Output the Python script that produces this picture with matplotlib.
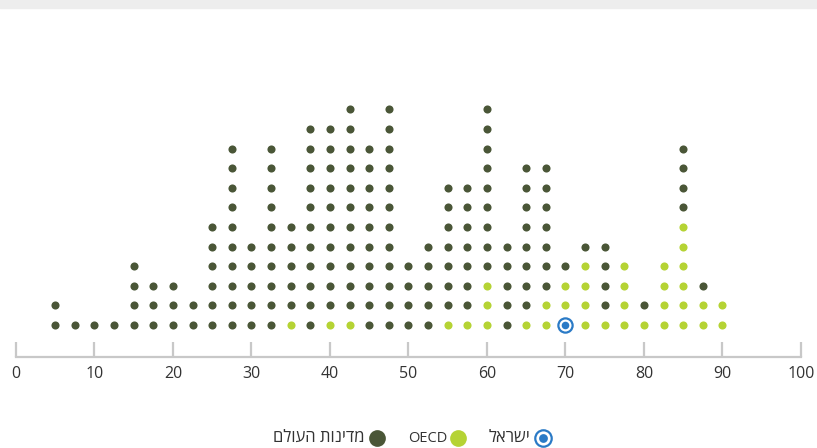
import matplotlib
matplotlib.use('Agg')
import matplotlib.pyplot as plt

# ─── Data: dot counts per bin (bins every 2.5 points) ────────────────────────
BINS = [5, 7.5, 10, 12.5, 15, 17.5, 20, 22.5, 25, 27.5, 30, 32.5, 35, 37.5,
        40, 42.5, 45, 47.5, 50, 52.5, 55, 57.5, 60, 62.5, 65, 67.5, 70, 72.5,
        75, 77.5, 80, 82.5, 85, 87.5, 90]
OECD = [0, 0, 0, 0, 0, 0, 0, 0, 0, 0, 0, 0, 1, 0,
        1, 1, 0, 0, 0, 0, 1, 1, 3, 0, 1, 2, 2, 4,
        1, 4, 1, 4, 6, 2, 2]
WORLD = [2, 1, 1, 1, 4, 3, 3, 2, 6, 10, 5, 10, 5, 11,
         10, 11, 10, 12, 4, 5, 7, 7, 9, 5, 8, 7, 1, 1,
         4, 0, 1, 0, 4, 1, 0]
ISRAEL = 70
XTICKS = [0, 10, 20, 30, 40, 50, 60, 70, 80, 90, 100]

LEGEND = ["ישראל", "OECD", "מדינות העולם"]

DARK = '#4a5637'
LIGHT = '#b5d334'
BLUE = '#2a7ac6'
GREY = '#c8c8c8'
TEXT = '#333333'

plt.rcParams['font.family'] = ['Open Sans', 'DejaVu Sans']

fig = plt.figure(figsize=(8.17, 4.48), dpi=100)
# light grey band along the top edge
fig.patches.append(plt.Rectangle((0, 440 / 448), 1, 8 / 448, transform=fig.transFigure,
                                 color='#ededed', zorder=0))

# axes: x 0..100 spans px 16..801, y in "dot rows" (row 0 at px 325, 19.6 px per row)
ax = fig.add_axes([16 / 817, 48 / 448, 785 / 817, 392 / 448])
ax.set_xlim(0, 100)
ax.set_ylim((325 - 400) / 19.6, (325 - 8) / 19.6)

# stack each column: Israel at the bottom, then OECD, then the rest of the world
xs_o, ys_o, xs_w, ys_w = [], [], [], []
for b, n_o, n_w in zip(BINS, OECD, WORLD):
    start = 1 if b == ISRAEL else 0
    for i in range(n_o):
        xs_o.append(b)
        ys_o.append(start + i)
    for i in range(n_w):
        xs_w.append(b)
        ys_w.append(start + n_o + i)

ax.scatter(xs_w, ys_w, s=34, color=DARK, linewidths=0, zorder=3)
ax.scatter(xs_o, ys_o, s=34, color=LIGHT, linewidths=0, zorder=3)
ax.scatter([ISRAEL], [0], s=105, facecolor='white', edgecolor=BLUE, linewidths=1.6, zorder=3)
ax.scatter([ISRAEL], [0], s=30, color=BLUE, linewidths=0, zorder=4)

for s in ['top', 'right', 'left']:
    ax.spines[s].set_visible(False)
ax.spines['bottom'].set_position(('data', (325 - 356.5) / 19.6))
ax.spines['bottom'].set_color(GREY)
ax.spines['bottom'].set_linewidth(1.6)
ax.set_yticks([])
ax.set_xticks(XTICKS)
ax.set_xticklabels([str(t) for t in XTICKS])
ax.tick_params(axis='x', direction='in', length=10.5, width=1.6, color=GREY,
               pad=7, labelsize=11.5, labelcolor=TEXT)
ax.patch.set_alpha(0)

# legend (right-to-left; Hebrew drawn in visual order)
lax = fig.add_axes([0, 0, 1, 1], facecolor='none')
lax.set_xlim(0, 817)
lax.set_ylim(448, 0)
lax.axis('off')
ly = 438
lax.scatter([543], [ly], s=140, facecolor='white', edgecolor=BLUE, linewidths=1.6)
lax.scatter([543], [ly], s=40, color=BLUE, linewidths=0)
lax.text(530, ly, LEGEND[0][::-1], ha='right', va='center', fontsize=12, color=TEXT)
lax.scatter([458], [ly], s=145, color=LIGHT, linewidths=0)
lax.text(447, ly, LEGEND[1], ha='right', va='center', fontsize=10.5, color=TEXT)
lax.scatter([377], [ly], s=145, color=DARK, linewidths=0)
lax.text(365, ly, LEGEND[2][::-1], ha='right', va='center', fontsize=12, color=TEXT)

fig.savefig('out.png', dpi=100)
